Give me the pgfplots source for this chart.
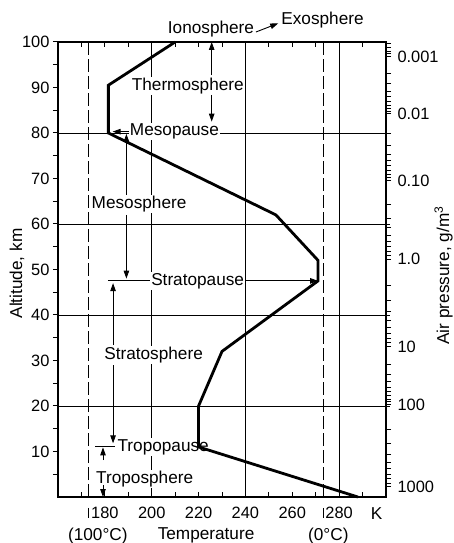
\documentclass[border=0pt]{standalone}
\usepackage{fontspec}
\setmainfont{Liberation Sans}
\usepackage{pgfplots}
\pgfplotsset{compat=1.18}
\usetikzlibrary{arrows.meta}

\newcommand\lbl{\fontsize{17.2bp}{20bp}\selectfont}
\newcommand\tkl{\fontsize{16.4bp}{19bp}\selectfont}

\pgfplotsset{
  base/.style={scale only axis, width=328bp, height=455bp,
    xmin=160, xmax=300, ymin=0, ymax=100,
    tick label style={font=\tkl},
    /pgf/number format/assume math mode=true,
    major tick length=5bp, minor tick length=5bp,
    tick style={black, line width=1bp},
    axis line style={line width=1.3bp}},
  grd/.style={black, line width=0.9bp},
}

\begin{document}
\begin{tikzpicture}[font=\lbl,
  ar/.style={-{Triangle[length=8bp,width=5.5bp]}, line width=0.9bp},
  lab/.style={fill=white, inner sep=1bp}]
\begin{axis}[base, name=main, clip=false, tick align=inside,
  xtick={180,200,...,280}, minor xtick={170,190,...,290},
  xtick pos=both, xticklabel pos=lower,
  xticklabels={180,200,220,240,260,280},
  xticklabel style={yshift=-6.5bp},
  ytick=\empty]
% grid lines
\addplot[grd] coordinates {(200,0) (200,100)};
\addplot[grd] coordinates {(240,0) (240,100)};
\addplot[grd] coordinates {(280,0) (280,100)};
\addplot[grd] coordinates {(160,20) (301.5,20)};
\addplot[grd] coordinates {(160,40) (301.5,40)};
\addplot[grd] coordinates {(160,60) (301.5,60)};
\addplot[grd] coordinates {(160,80) (301.5,80)};
\addplot[black, line width=1.1bp, dash pattern=on 13bp off 4bp] coordinates {(173.15,0) (173.15,100)};
\addplot[black, line width=1.1bp, dash pattern=on 13bp off 4bp] coordinates {(273.15,0) (273.15,100)};
\draw[line width=1.1bp] (axis cs:173.15,-2.4) -- (axis cs:173.15,-4.7);
\draw[line width=1.1bp] (axis cs:273.15,-2.4) -- (axis cs:273.15,-4.7);

% layer names
\node at (axis cs:225.3,102.9) {Ionosphere};
\node at (axis cs:272.9,104.8) {Exosphere};
\draw[ar] (axis cs:244.5,102.2) -- (axis cs:254,104.1);

\node[lab] at (axis cs:215.4,90.3) {Thermosphere};
\draw[ar] (axis cs:225.6,92.7) -- (axis cs:225.6,100);
\draw[ar] (axis cs:225.6,88.4) -- (axis cs:225.6,82.5);

\node[lab] at (axis cs:209.7,80.3) {Mesopause};
\draw[ar] (axis cs:190.2,80.3) -- (axis cs:183.3,80.3);

\node[lab] at (axis cs:194.6,64.4) {Mesosphere};
\draw[ar] (axis cs:189.2,66.4) -- (axis cs:189.2,79.8);
\draw[ar] (axis cs:189.2,62.0) -- (axis cs:189.2,48.0);

\draw[ar] (axis cs:181.3,47.5) -- (axis cs:271,47.5);
\node[lab] at (axis cs:219.6,47.5) {Stratopause};

\node[lab] at (axis cs:200.8,31.2) {Stratosphere};
\draw[ar] (axis cs:183.5,33.4) -- (axis cs:183.5,47.0);
\draw[ar] (axis cs:183.5,29.0) -- (axis cs:183.5,11.8);

\draw[line width=0.9bp] (axis cs:175.8,11.2) -- (axis cs:184.3,11.2);
\node[lab] at (axis cs:204.9,11.0) {Tropopause};

\node[lab] at (axis cs:197.0,4.0) {Troposphere};
\draw[ar] (axis cs:179.2,8.1) -- (axis cs:179.2,10.9);
\draw[ar] (axis cs:179.2,2.6) -- (axis cs:179.2,0);

% temperature profile
\addplot[black, line width=2.8bp] coordinates {
  (288,0) (220,11) (220,20) (230,32) (271,47.5) (271,52)
  (253,62) (181.5,80) (181.5,90.5) (210,100)};

% bottom texts
\node[inner sep=0pt] at (axis cs:177,-8.6) {(100°C)};
\node[inner sep=0pt] at (axis cs:223.2,-8.4) {Temperature};
\node[inner sep=0pt] at (axis cs:275.4,-8.6) {(0°C)};
\node at (axis cs:296,-3.6) {K};
\end{axis}

% left altitude axis
\begin{axis}[base, at={(main.south west)}, anchor=south west,
  hide x axis, axis y line*=left, tick align=outside,
  ytick={10,20,...,100}, minor ytick={5,15,...,95}]
\addplot[draw=none] coordinates {(160,0)};
\end{axis}

% right pressure axis
\begin{axis}[base, at={(main.south west)}, anchor=south west,
  hide x axis, axis y line*=right, tick align=outside,
  ytick={96.8,84.2,69.5,52.3,33,20.3,2.2},
  yticklabels={0.001,0.01,0.10,1.0,10,100,1000},
  yticklabel style={xshift=3bp},
  minor ytick={99.6,98.75,98.02,97.38,
    93.0,90.79,89.21,88.0,87.0,86.15,85.42,84.78,
    79.78,77.19,75.35,73.93,72.76,71.78,70.93,70.18,
    64.32,61.3,59.15,57.48,56.12,54.97,53.97,53.09,
    46.49,43.09,40.68,38.81,37.28,35.99,34.87,33.89,
    29.18,26.94,25.35,24.12,23.12,22.27,21.53,20.88,
    14.85,11.67,9.40,7.65,6.22,5.01,3.96,3.03}]
\addplot[draw=none] coordinates {(160,0)};
\end{axis}

\node[rotate=90] at ([xshift=-41bp,yshift=-4bp]main.west) {Altitude, km};
\node[rotate=90, anchor=south, inner sep=0pt] at ([xshift=67bp,yshift=-6bp]main.east) {Air pressure, g/m\textsuperscript{3}};
\pgfresetboundingbox
\path[use as bounding box] ([shift={(-58bp,-46bp)}]main.south west) rectangle ([shift={(68bp,42bp)}]main.north east);
\end{tikzpicture}
\end{document}
